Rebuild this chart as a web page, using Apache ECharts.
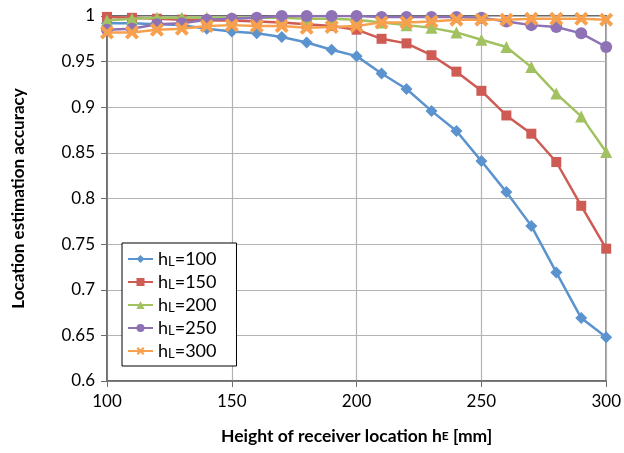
<!DOCTYPE html>
<html>
<head>
<meta charset="utf-8">
<script src="https://cdn.jsdelivr.net/npm/echarts@6/dist/echarts.min.js"></script>
<style>
  html, body { margin: 0; padding: 0; background: #fff; }
  #main { width: 624px; height: 453px; }
</style>
</head>
<body>
<div id="main"></div>
<script>
// receiver height hE [mm]
const heights = [100, 110, 120, 130, 140, 150, 160, 170, 180, 190, 200, 210, 220, 230, 240, 250, 260, 270, 280, 290, 300]
const seriesNames = ['hL=100', 'hL=150', 'hL=200', 'hL=250', 'hL=300']
const acc100 = [0.992, 0.992, 0.991, 0.990, 0.986, 0.983, 0.981, 0.977, 0.971, 0.963, 0.956, 0.937, 0.920, 0.896, 0.874, 0.841, 0.807, 0.770, 0.719, 0.669, 0.648]
const acc150 = [0.999, 0.998, 0.997, 0.996, 0.995, 0.995, 0.994, 0.993, 0.991, 0.989, 0.985, 0.975, 0.970, 0.957, 0.939, 0.918, 0.891, 0.871, 0.840, 0.792, 0.745]
const acc200 = [0.995, 0.997, 0.998, 0.998, 0.998, 0.998, 0.998, 0.998, 0.997, 0.997, 0.996, 0.993, 0.990, 0.987, 0.982, 0.974, 0.966, 0.944, 0.915, 0.890, 0.851]
const acc250 = [0.985, 0.986, 0.991, 0.992, 0.996, 0.997, 0.998, 1.000, 1.000, 1.000, 1.000, 0.999, 0.999, 0.999, 0.999, 0.998, 0.994, 0.990, 0.988, 0.981, 0.966]
const acc300 = [0.982, 0.982, 0.985, 0.986, 0.989, 0.990, 0.989, 0.989, 0.987, 0.988, 0.989, 0.993, 0.993, 0.994, 0.996, 0.996, 0.996, 0.997, 0.997, 0.997, 0.996]

const colors = ['#5B93CF', '#CF5B55', '#A2C161', '#8E72B5', '#F7A04E']
const symbols = [
  'diamond',
  'rect',
  'triangle',
  'circle',
  'path://M0,2 L2,0 L5,3 L8,0 L10,2 L7,5 L10,8 L8,10 L5,7 L2,10 L0,8 L3,5 Z'
]
const sizes = [12, 10, 12, 12, 14]
const allData = [acc100, acc150, acc200, acc250, acc300]

const fontFamily = 'Lato, "Open Sans", sans-serif'

const chart = echarts.init(document.getElementById('main'))

const series = allData.map((vals, i) => ({
  name: seriesNames[i],
  type: 'line',
  data: heights.map((h, j) => [h, vals[j]]),
  symbol: symbols[i],
  symbolSize: sizes[i],
  showAllSymbol: true,
  lineStyle: { width: 2.5, color: colors[i] },
  itemStyle: { color: colors[i] },
  z: 2 + i
}))

chart.setOption({
  animation: false,
  color: colors,
  grid: {
    left: 107,
    right: 17,
    top: 16,
    bottom: 72,
    show: true,
    borderColor: '#3a3a3a',
    borderWidth: 1.5
  },
  legend: {
    orient: 'vertical',
    left: 122,
    top: 243,
    padding: [7, 20, 6, 5],
    itemGap: 5,
    itemWidth: 25,
    itemHeight: 10,
    borderColor: '#000',
    borderWidth: 1,
    backgroundColor: '#fff',
    formatter: name => 'h{s|L}' + name.slice(2),
    textStyle: {
      fontFamily,
      fontSize: 18,
      color: '#000',
      rich: {
        s: { fontFamily, fontSize: 13, color: '#000', verticalAlign: 'bottom' }
      }
    },
    data: seriesNames
  },
  xAxis: {
    type: 'value',
    min: 100,
    max: 300,
    interval: 50,
    name: 'Height of receiver location h{s|E} [mm]',
    nameLocation: 'middle',
    nameGap: 46,
    nameTextStyle: {
      fontFamily,
      fontSize: 17.5,
      fontWeight: 'bold',
      color: '#000',
      rich: {
        s: { fontFamily, fontSize: 12, fontWeight: 'bold', color: '#000' }
      }
    },
    axisLine: { lineStyle: { color: '#6e6e6e', width: 1.5 } },
    axisTick: { show: true, length: 6, lineStyle: { color: '#6e6e6e' } },
    axisLabel: { fontFamily, fontSize: 17, color: '#000', margin: 12 },
    splitLine: { lineStyle: { color: '#b3b3b3', width: 1.2 } }
  },
  yAxis: {
    type: 'value',
    min: 0.6,
    max: 1,
    interval: 0.05,
    name: 'Location estimation accuracy',
    nameLocation: 'middle',
    nameGap: 80,
    nameTextStyle: {
      fontFamily,
      fontSize: 17,
      fontWeight: 'bold',
      color: '#000'
    },
    axisLine: { show: true, lineStyle: { color: '#6e6e6e', width: 1.5 } },
    axisTick: { show: true, length: 6, lineStyle: { color: '#6e6e6e' } },
    axisLabel: { fontFamily, fontSize: 17, color: '#000', margin: 12 },
    splitLine: { lineStyle: { color: '#b3b3b3', width: 1.2 } }
  },
  series
})
</script>
</body>
</html>
